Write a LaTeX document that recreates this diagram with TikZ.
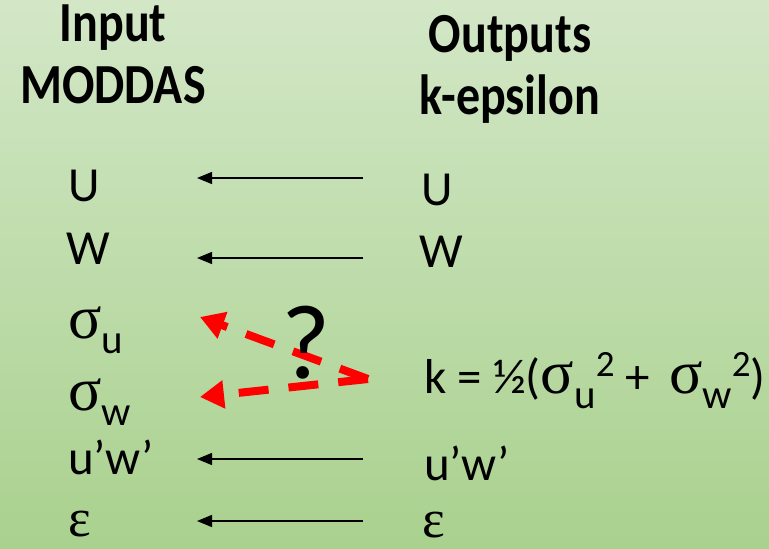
\documentclass[tikz,border=0pt]{standalone}
\usepackage{fontspec}
\setmainfont{Carlito}
\newfontfamily\symf{Liberation Serif}
\usetikzlibrary{arrows.meta}
\definecolor{bgtop}{RGB}{211,231,199}
\definecolor{bgbot}{RGB}{169,209,142}
\definecolor{redarr}{RGB}{255,0,0}
\newcommand{\sgm}{{\symf\fontsize{62}{62}\selectfont σ}}
\newcommand{\eps}{{\symf\fontsize{54}{54}\selectfont ε}}
\newcommand{\sbs}[1]{\raisebox{-15pt}{\fontsize{41}{41}\selectfont #1}}
\newcommand{\sps}[1]{\raisebox{17pt}{\fontsize{37}{37}\selectfont #1}}
\newcommand{\tallh}[1]{\scalebox{1}[1.18]{#1}}
\begin{document}
\begin{tikzpicture}[x=1pt,y=-1pt,
  lbl/.style={anchor=base west, inner sep=0pt, font=\fontsize{49}{49}\selectfont},
  head/.style={anchor=base, inner sep=0pt, font=\fontsize{48}{48}\selectfont\bfseries},
  blk/.style={draw=black, line width=1.3pt, -{Triangle[length=15pt,width=12pt]}},
  reddash/.style={draw=redarr, line width=8pt, dash pattern=on 30pt off 20pt, -{Triangle[length=24pt,width=27pt]}}]
\shade[top color=bgtop, bottom color=bgbot] (0,0) rectangle (769,549);
\useasboundingbox (0,0) rectangle (769,549);
% headings
\node[head] (hin1) at (113,41) {\tallh{Input}};
\node[head] (hin2) at (113,103) {\tallh{MODDAS}};
\node[head] (hout1) at (510,52) {\tallh{Outputs}};
\node[head] (hout2) at (510,114) {\tallh{k-epsilon}};
% left column
\node[lbl] (lU) at (68,201) {U};
\node[lbl] (lW) at (66,264) {W};
\node[lbl] (lsu) at (68,338) {\sgm\sbs{u}};
\node[lbl] (lsw) at (68,410) {\sgm\sbs{w}};
\node[lbl] (luw) at (68,474) {u’w’};
\node[lbl] (le) at (68,536) {\smash{\eps}};
% right column
\node[lbl] (rU) at (421,205) {U};
\node[lbl] (rW) at (419,267) {W};
\node[lbl] (rk) at (424,393) {k = ½(\sgm\sbs{u}\sps{2} + \,\sgm\sbs{w}\sps{2})};
\node[lbl] (ruw) at (424,480) {u’w’};
\node[lbl] (re) at (422,537) {\smash{\eps}};
% black arrows
\coordinate (aU1) at (363,178); \coordinate (aU2) at (197,178);
\coordinate (aW1) at (363,258); \coordinate (aW2) at (197,258);
\coordinate (aX1) at (363,459); \coordinate (aX2) at (197,459);
\coordinate (aE1) at (363,521); \coordinate (aE2) at (197,521);
\draw[blk] (aU1) -- (aU2);
\draw[blk] (aW1) -- (aW2);
\draw[blk] (aX1) -- (aX2);
\draw[blk] (aE1) -- (aE2);
% red dashed arrows
\coordinate (kin) at (368,379);
\coordinate (su) at (200,317);
\coordinate (sw) at (200,397);
\draw[reddash] (kin) -- (su);
\draw[reddash] (kin) -- (sw);
% question mark
\node[inner sep=0pt, anchor=base, font=\fontsize{106}{106}\selectfont] (q) at (306,378) {?};
\end{tikzpicture}
\end{document}
